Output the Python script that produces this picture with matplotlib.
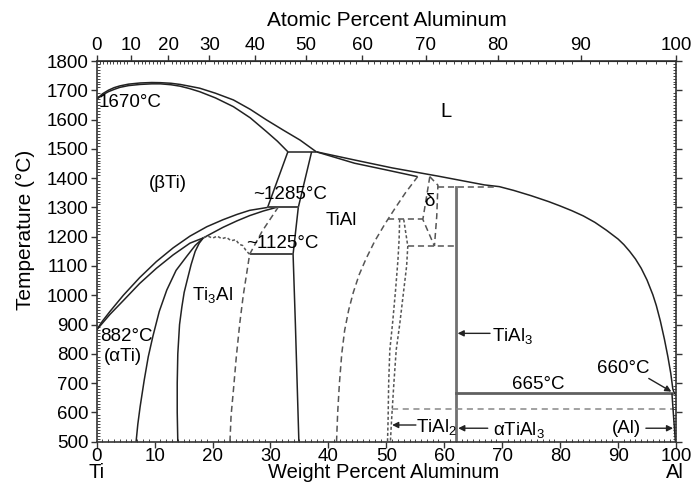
import numpy as np
import matplotlib
matplotlib.use("Agg")
import matplotlib.pyplot as plt
from matplotlib.transforms import blended_transform_factory

plt.rcParams['font.family'] = ['Liberation Sans', 'DejaVu Sans']
plt.rcParams['mathtext.fontset'] = 'custom'
plt.rcParams['mathtext.rm'] = 'Liberation Sans'
plt.rcParams['mathtext.it'] = 'Liberation Sans:italic'

# ---------------- data (weight % Al, temperature degC) ----------------
M_AL = 26.98
M_TI = 47.87

wt_ticks = [0, 10, 20, 30, 40, 50, 60, 70, 80, 90, 100]
at_ticks = [0, 10, 20, 30, 40, 50, 60, 70, 80, 90, 100]
t_ticks = [500, 600, 700, 800, 900, 1000, 1100, 1200, 1300, 1400, 1500, 1600, 1700, 1800]

liq_ti_wt = [0, 1, 2, 3, 4, 5.5, 7.5, 9.5, 11, 12.8, 14.4, 16, 17.8, 20.5, 23.6, 26.5, 29.3, 32.2, 35.1, 37.9]
liq_ti_T = [1670, 1688, 1700, 1709, 1715, 1721, 1725, 1726.5, 1726, 1724, 1720, 1714, 1707, 1690, 1667, 1635, 1599, 1564, 1530, 1490]

sol_beta_wt = [0, 1, 2, 3, 4, 5.5, 7.5, 9.5, 11, 12.8, 14.4, 16, 17.8, 20.5, 23.6, 26.5, 29.3, 31.2, 33.0]
sol_beta_T = [1670, 1684, 1695, 1703, 1710, 1716, 1720, 1722, 1722, 1719, 1714, 1706, 1695, 1674, 1644, 1606, 1559, 1526, 1490]

liq_al_wt = [37.9, 44.5, 51, 58.9, 66.9, 69.5, 72, 75, 78, 80, 82, 84, 86, 88, 90, 91, 92, 93, 94, 95, 96, 96.6,
             97.3, 98, 98.6, 99.1, 99.45, 99.7, 100]
liq_al_T = [1490, 1462, 1435, 1407, 1377, 1371, 1358, 1340, 1320, 1305, 1289, 1271, 1249, 1222, 1192, 1173, 1150, 1124,
            1092, 1052, 1002, 965, 912, 850, 790, 733, 680, 666, 660]

sol_tial_wt = [37.9, 44.5, 50, 55.4]
sol_tial_T = [1490, 1451, 1428, 1405]

peritectic_wt = [33.0, 37.9]
peritectic_T = [1490, 1490]

alpha_right_wt = [33.0, 29.5]
alpha_right_T = [1490, 1300]

tial_left_wt = [37.1, 34.8, 33.9, 34.3, 34.9]
tial_left_T = [1490, 1300, 1140, 900, 500]

beta_transus_wt = [0, 1, 2.3, 4.6, 7.4, 10.3, 13.2, 16.1, 19, 21.8, 24.2, 26.4, 29.5]
beta_transus_T = [882, 912, 945, 1000, 1060, 1115, 1162, 1202, 1234, 1258, 1276, 1290, 1300]

alpha_bound_wt = [0, 1, 2.3, 4.6, 7.4, 10.3, 13.2, 16.1, 18.4, 21.8, 24.2, 26.4, 28.8, 31.0]
alpha_bound_T = [882, 905, 935, 982, 1040, 1092, 1138, 1178, 1196, 1232, 1254, 1272, 1288, 1300]

line1285_wt = [29.5, 34.8]
line1285_T = [1300, 1300]

line1125_wt = [26.7, 33.9]
line1125_T = [1140, 1140]

dome_left_wt = [6.8, 7.1, 7.5, 8.2, 8.9, 9.7, 10.8, 12.1, 13.7, 15.5, 17.0, 18.4]
dome_left_T = [500, 560, 620, 710, 790, 860, 945, 1018, 1085, 1132, 1170, 1196]

ti3al_left_wt = [14.0, 13.9, 13.9, 14.0, 14.3, 14.7, 15.1, 15.6, 16.3, 17.0, 17.7, 18.4]
ti3al_left_T = [500, 600, 700, 800, 900, 960, 1010, 1050, 1105, 1150, 1178, 1196]

ti3al_right_wt = [23.0, 23.2, 23.6, 24.1, 24.7, 25.3, 25.9, 26.4]
ti3al_right_T = [500, 590, 676, 790, 905, 1000, 1076, 1140]

wavy_wt = [18.4, 19.2, 20.0, 20.8, 21.6, 22.4, 23.2, 24.0, 24.6, 25.2, 25.8, 26.4]
wavy_T = [1196, 1202, 1195, 1202, 1193, 1198, 1186, 1190, 1174, 1170, 1152, 1140]

alpha_dash_wt = [26.4, 28.6, 31.3]
alpha_dash_T = [1140, 1220, 1300]

tial_right_wt = [41.4, 41.6, 41.9, 42.3, 42.8, 43.5, 44.3, 45.3, 46.5, 48.0, 49.8, 51.6, 53.3, 55.4]
tial_right_T = [500, 600, 700, 800, 880, 950, 1010, 1070, 1125, 1185, 1245, 1300, 1350, 1405]

line1259_wt = [50.3, 56.3]
line1259_T = [1259, 1259]

delta_left_wt = [57.5, 56.3, 58.3]
delta_left_T = [1405, 1259, 1168]

delta_right_wt = [57.5, 58.9, 58.7, 58.3]
delta_right_T = [1405, 1376, 1270, 1168]

line1371_wt = [58.9, 68.9]
line1371_T = [1371, 1371]

line1168_wt = [53.7, 62.1]
line1168_T = [1168, 1168]

tial2_left_wt = [52.3, 52.2, 52.0, 51.6, 51.1, 50.6, 50.4, 50.3, 50.2]
tial2_left_T = [1259, 1190, 1120, 1020, 910, 813, 700, 574, 500]

tial2_right_wt = [53.0, 53.7, 53.5, 52.9, 52.3, 51.7, 51.3, 50.9, 50.7]
tial2_right_T = [1259, 1168, 1100, 1000, 900, 813, 700, 574, 500]

tial3_wt = [62.1, 62.1]
tial3_T = [500, 1371]

line665_wt = [62.1, 99.3]
line665_T = [665, 665]

line611_wt = [50.9, 99.6]
line611_T = [611, 611]

al_solvus_wt = [99.3, 99.6, 99.9]
al_solvus_T = [665, 580, 500]


def wt_to_at(w):
    w = np.clip(np.asarray(w, dtype=float), -50, 150)
    n_al = w / M_AL
    n_ti = (100 - w) / M_TI
    return 100 * n_al / (n_al + n_ti)


def at_to_wt(a):
    a = np.clip(np.asarray(a, dtype=float), -50, 150)
    m_al = a * M_AL
    m_ti = (100 - a) * M_TI
    return 100 * m_al / (m_al + m_ti)


fig = plt.figure(figsize=(6.93, 4.82), dpi=100)
ax = fig.add_axes([0.13954, 0.08361, 0.83593, 0.78983])

solid = dict(color='#222222', lw=1.1, solid_capstyle='butt', solid_joinstyle='round')
dash = dict(color='#555555', lw=1.1, ls=(0, (4, 2.5)))
dot = dict(color='#555555', lw=1.1, ls=(0, (2, 1.5)))

ax.plot(liq_ti_wt, liq_ti_T, **solid)
ax.plot(sol_beta_wt, sol_beta_T, **solid)
ax.plot(liq_al_wt, liq_al_T, **solid)
ax.plot(sol_tial_wt, sol_tial_T, **solid)
ax.plot(peritectic_wt, peritectic_T, **solid)
ax.plot(alpha_right_wt, alpha_right_T, **solid)
ax.plot(tial_left_wt, tial_left_T, **solid)
ax.plot(beta_transus_wt, beta_transus_T, **solid)
ax.plot(alpha_bound_wt, alpha_bound_T, **solid)
ax.plot(line1285_wt, line1285_T, color='#444444', lw=1.4)
ax.plot(line1125_wt, line1125_T, color='#444444', lw=1.4)
ax.plot(dome_left_wt, dome_left_T, **solid)
ax.plot(ti3al_left_wt, ti3al_left_T, **solid)
ax.plot(ti3al_right_wt, ti3al_right_T, **dash)
ax.plot(wavy_wt, wavy_T, **dot)
ax.plot(alpha_dash_wt, alpha_dash_T, **dash)
ax.plot(tial_right_wt, tial_right_T, **dash)
ax.plot(line1259_wt, line1259_T, **dash)
ax.plot(delta_left_wt, delta_left_T, **dash)
ax.plot(delta_right_wt, delta_right_T, **dash)
ax.plot(line1371_wt, line1371_T, **dash)
ax.plot(line1168_wt, line1168_T, **dash)
ax.plot(tial2_left_wt, tial2_left_T, **dot)
ax.plot(tial2_right_wt, tial2_right_T, **dot)
ax.plot(tial3_wt, tial3_T, color='#707070', lw=2.0)
ax.plot(line665_wt, line665_T, color='#606060', lw=2.0)
ax.plot(line611_wt, line611_T, color='#888888', lw=1.1, ls=(0, (4, 3)))
ax.plot(al_solvus_wt, al_solvus_T, **solid)

ax.set_xlim(0, 100)
ax.set_ylim(500, 1800)

fs = 13.5
lfs = 14.5
# labels inside
ax.text(60.3, 1627, 'L', fontsize=14.5, ha='center', va='center')
ax.text(12.2, 1382, '(βTi)', fontsize=fs, ha='center', va='center')
ax.text(0.3, 1660, '1670°C', fontsize=fs, ha='left', va='center')
ax.text(33.3, 1345, '~1285°C', fontsize=fs, ha='center', va='center')
ax.text(32.0, 1177, '~1125°C', fontsize=fs, ha='center', va='center')
ax.text(42.2, 1255, 'TiAl', fontsize=fs, ha='center', va='center')
ax.text(57.5, 1320, 'δ', fontsize=fs, ha='center', va='center')
ax.text(16.4, 1000, 'Ti$_3$Al', fontsize=fs, ha='left', va='center')
ax.text(0.6, 859, '882°C', fontsize=fs, ha='left', va='center')
ax.text(4.45, 790, '(αTi)', fontsize=fs, ha='center', va='center')
ax.text(76.3, 694, '665°C', fontsize=fs, ha='center', va='center')
ax.text(90.9, 751, '660°C', fontsize=fs, ha='center', va='center')
ax.text(68.2, 860, 'TiAl$_3$', fontsize=fs, ha='left', va='center')
ax.text(55.1, 550, 'TiAl$_2$', fontsize=fs, ha='left', va='center')
ax.text(68.4, 540, 'αTiAl$_3$', fontsize=fs, ha='left', va='center')
ax.text(91.5, 546, '(Al)', fontsize=fs, ha='center', va='center')

arrow = dict(arrowstyle='-|>', color='#222222', lw=1.0, mutation_scale=9, shrinkA=0, shrinkB=0)
ax.annotate('', xy=(62.3, 870), xytext=(67.9, 870), arrowprops=arrow)
ax.annotate('', xy=(51.0, 557), xytext=(55.1, 557), arrowprops=arrow)
ax.annotate('', xy=(62.4, 546), xytext=(67.5, 546), arrowprops=arrow)
ax.annotate('', xy=(99.5, 546), xytext=(94.8, 546), arrowprops=arrow)
ax.annotate('', xy=(99.2, 671), xytext=(95.3, 716), arrowprops=arrow)

# ticks bottom / left / right
ax.set_xticks(wt_ticks)
ax.set_xticks(np.arange(0, 101, 1), minor=True)
ax.set_yticks(t_ticks)
ax.set_yticks(np.arange(500, 1801, 10), minor=True)
ax.tick_params(axis='both', which='major', labelsize=fs, direction='out', length=4, width=1.0, color='#333333')
ax.tick_params(axis='y', which='major', right=True, pad=2)
ax.tick_params(axis='x', which='major', pad=0.5)
ax.tick_params(axis='both', which='minor', direction='in', length=2.5, width=0.7, color='#444444')
ax.tick_params(axis='y', which='minor', right=True)
for sp in ax.spines.values():
    sp.set_linewidth(1.2)
    sp.set_color('#333333')

secax = ax.secondary_xaxis('top', functions=(wt_to_at, at_to_wt))
secax.set_xticks(at_ticks)
secax.set_xticks(np.arange(0, 101, 1), minor=True)
secax.tick_params(axis='x', which='major', labelsize=fs, direction='out', length=4, width=1.0, pad=1, color='#333333')
secax.tick_params(axis='x', which='minor', direction='in', length=2.5, width=0.7, color='#444444')

ax.set_ylabel('Temperature (°C)', fontsize=lfs + 0.5)
ax.yaxis.set_label_coords(-0.106, 0.556)

trans = blended_transform_factory(ax.transData, ax.transAxes)
ax.text(49.5, -0.057, 'Weight Percent Aluminum', fontsize=lfs, ha='center', va='top', transform=trans)
ax.text(0, -0.057, 'Ti', fontsize=lfs, ha='center', va='top', transform=trans)
ax.text(99.8, -0.057, 'Al', fontsize=lfs, ha='center', va='top', transform=trans)
fig.text(387 / 693, 1 - 20 / 482, 'Atomic Percent Aluminum', fontsize=lfs + 0.5, ha='center', va='center')

fig.savefig('out.png', dpi=100)
